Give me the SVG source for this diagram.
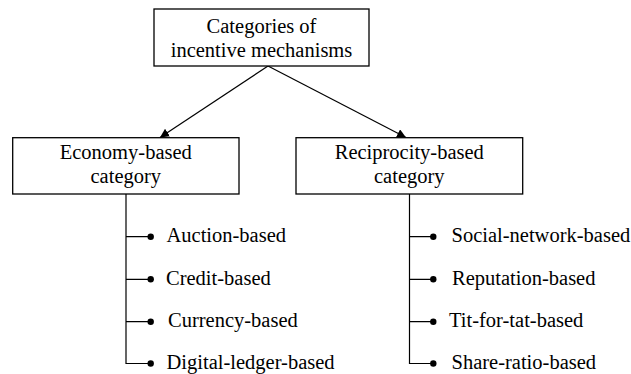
<svg xmlns="http://www.w3.org/2000/svg" width="631" height="374" viewBox="0 0 631 374">
  <style>
    .box { fill: #ffffff; stroke: #000000; stroke-width: 1.3; }
    .lbl { font-size: 20.5px; fill: #000000; }
    .mid { text-anchor: middle; }
    .line { fill: none; stroke: #000000; stroke-width: 1.2; }
    .dot { fill: #000000; }
  </style>
  <defs>
    <marker id="arrow" viewBox="0 0 10 10" refX="10" refY="5" markerWidth="9" markerHeight="9" markerUnits="userSpaceOnUse" orient="auto">
      <path d="M0,0 L10,5 L0,10 Z" fill="#000000"/>
    </marker>
  </defs>

  <rect width="631" height="374" fill="#ffffff"/>

  <g id="connectors">
    <line class="line" x1="268" y1="66" x2="160" y2="137.5" marker-end="url(#arrow)"/>
    <line class="line" x1="268" y1="66" x2="406" y2="137.5" marker-end="url(#arrow)"/>
    <!-- economy branches -->
    <path class="line" d="M126,194 V363.5 H150.5 M126,236.7 H150.5 M126,279.3 H150.5 M126,321.7 H150.5"/>
    <!-- reciprocity branches -->
    <path class="line" d="M409.5,194 V363.5 H433.5 M409.5,236.7 H433.5 M409.5,279.3 H433.5 M409.5,321.7 H433.5"/>
  </g>

  <g font-family="Liberation Serif, Times New Roman, DejaVu Serif, serif">
  <g id="root">
    <rect class="box" x="154" y="9" width="215" height="57"/>
    <text class="lbl mid" x="261.5" y="33">Categories of</text>
    <text class="lbl mid" x="261.5" y="57">incentive mechanisms</text>
  </g>

  <g id="economy">
    <rect class="box" x="12.7" y="137.7" width="226.3" height="56.3"/>
    <text class="lbl mid" x="125.8" y="159">Economy-based</text>
    <text class="lbl mid" x="125.8" y="183">category</text>
  </g>

  <g id="reciprocity">
    <rect class="box" x="296" y="137.7" width="226.7" height="56.3"/>
    <text class="lbl mid" x="409.3" y="159">Reciprocity-based</text>
    <text class="lbl mid" x="409.3" y="183">category</text>
  </g>

  <g id="economy-items">
    <circle class="dot" cx="150.7" cy="236.7" r="3.2"/>
    <circle class="dot" cx="150.7" cy="279.3" r="3.2"/>
    <circle class="dot" cx="150.7" cy="321.7" r="3.2"/>
    <circle class="dot" cx="150.7" cy="363.5" r="3.2"/>
    <text class="lbl" x="166.5" y="242">Auction-based</text>
    <text class="lbl" x="166" y="285">Credit-based</text>
    <text class="lbl" x="168" y="327">Currency-based</text>
    <text class="lbl" x="166.5" y="369">Digital-ledger-based</text>
  </g>

  <g id="reciprocity-items">
    <circle class="dot" cx="433.3" cy="236.7" r="3.2"/>
    <circle class="dot" cx="433.3" cy="279.3" r="3.2"/>
    <circle class="dot" cx="433.3" cy="321.7" r="3.2"/>
    <circle class="dot" cx="433.3" cy="363.5" r="3.2"/>
    <text class="lbl" x="451.5" y="242">Social-network-based</text>
    <text class="lbl" x="452" y="285">Reputation-based</text>
    <text class="lbl" x="449" y="327">Tit-for-tat-based</text>
    <text class="lbl" x="451.5" y="369">Share-ratio-based</text>
  </g>
  </g>
</svg>
